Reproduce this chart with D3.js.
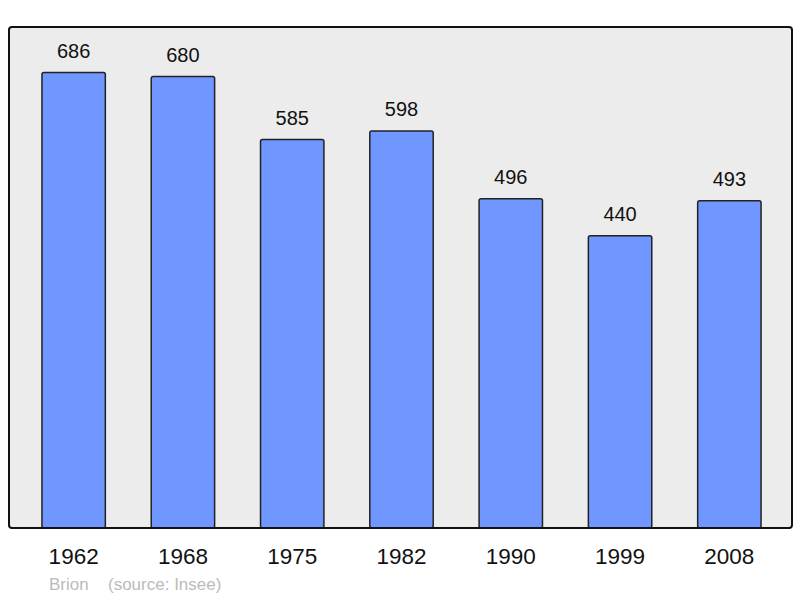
<!DOCTYPE html>
<html>
<head>
<meta charset="utf-8">
<script src="https://cdn.jsdelivr.net/npm/d3@7"></script>
<style>
  body { margin: 0; background: #fff; }
  text { font-family: "Liberation Sans", Arial, sans-serif; }
</style>
</head>
<body>
<script>
const years = ['1962', '1968', '1975', '1982', '1990', '1999', '2008'];
const population = [686, 680, 585, 598, 496, 440, 493];
const caption = 'Brion';
const source = '(source: Insee)';

const width = 800, height = 598;
const frame = {left: 9, top: 27, right: 792, bottom: 528};

const svg = d3.select('body').append('svg')
    .attr('width', width)
    .attr('height', height);

svg.append('rect')
    .attr('x', frame.left)
    .attr('y', frame.top)
    .attr('width', frame.right - frame.left)
    .attr('height', frame.bottom - frame.top)
    .attr('rx', 3)
    .attr('fill', '#ececec')
    .attr('stroke', '#111')
    .attr('stroke-width', 2);

const x = d3.scaleBand()
    .domain(years)
    .range([19, 784])
    .paddingInner(0.42)
    .paddingOuter(0.21);

const y = d3.scaleLinear()
    .domain([0, d3.max(population) * 1.1])
    .range([frame.bottom, frame.top]);

const data = years.map((yr, i) => ({year: yr, value: population[i]}));

svg.selectAll('.bar')
    .data(data)
    .enter().append('rect')
    .attr('class', 'bar')
    .attr('x', d => x(d.year))
    .attr('y', d => y(d.value))
    .attr('width', x.bandwidth())
    .attr('height', d => y(0) - y(d.value))
    .attr('rx', 2)
    .attr('fill', '#7096ff')
    .attr('stroke', '#222')
    .attr('stroke-width', 1.5);

svg.selectAll('.val')
    .data(data)
    .enter().append('text')
    .attr('class', 'val')
    .attr('x', d => x(d.year) + x.bandwidth() / 2)
    .attr('y', d => y(d.value) - 15)
    .attr('text-anchor', 'middle')
    .attr('font-size', 20)
    .attr('fill', '#111')
    .text(d => d.value);

// redraw frame bottom line over bars
svg.append('line')
    .attr('x1', frame.left + 2).attr('x2', frame.right - 2)
    .attr('y1', frame.bottom).attr('y2', frame.bottom)
    .attr('stroke', '#111')
    .attr('stroke-width', 2);

const xAxis = d3.axisBottom(x).tickSize(0).tickPadding(0);
const gx = svg.append('g')
    .attr('transform', 'translate(0,' + frame.bottom + ')')
    .call(xAxis);
gx.select('.domain').remove();
gx.selectAll('text')
    .attr('dy', null)
    .attr('y', 36)
    .attr('font-size', 22.5)
    .attr('font-family', '"Liberation Sans", Arial, sans-serif')
    .attr('fill', '#111');

svg.append('text')
    .attr('x', 49)
    .attr('y', 590)
    .attr('font-size', 17)
    .attr('fill', '#bbb')
    .text(caption);

svg.append('text')
    .attr('x', 108)
    .attr('y', 590)
    .attr('font-size', 17)
    .attr('fill', '#bbb')
    .text(source);
</script>
</body>
</html>
